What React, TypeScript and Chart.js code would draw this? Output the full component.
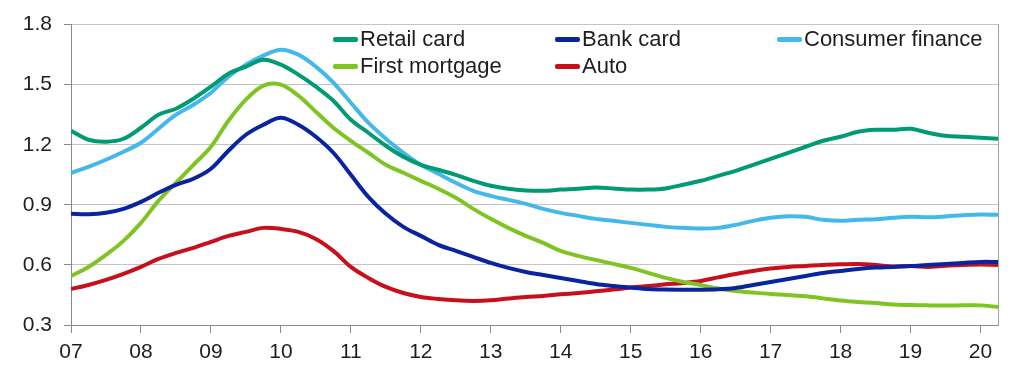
import React, { useEffect, useRef } from "react";
import { Chart, registerables } from "chart.js";

Chart.register(...registerables);

// Quarterly observations, 2007 Q1 .. 2020 Q2 (x in fractional years)
const START_YEAR = 2007;
const periods: number[] = Array.from({ length: 54 }, (_, i) => START_YEAR + i / 4);

const retailCard = [
  1.27, 1.225, 1.215, 1.23,
  1.285, 1.35, 1.38, 1.43,
  1.49, 1.555, 1.59, 1.625,
  1.6, 1.55, 1.49, 1.42,
  1.325, 1.26, 1.195, 1.14,
  1.1, 1.075, 1.05, 1.02,
  0.995, 0.98, 0.972, 0.97,
  0.976, 0.98, 0.986, 0.982,
  0.976, 0.976, 0.982, 1.0,
  1.02, 1.045, 1.07, 1.1,
  1.13, 1.16, 1.19, 1.22,
  1.24, 1.265, 1.275, 1.275,
  1.28, 1.26, 1.245, 1.24,
  1.235, 1.23,
];

const bankCard = [
  0.855, 0.853, 0.86, 0.88,
  0.915, 0.96, 1.0, 1.03,
  1.08, 1.17, 1.25, 1.3,
  1.335, 1.3, 1.24, 1.16,
  1.05, 0.94, 0.855, 0.79,
  0.745, 0.7, 0.67, 0.64,
  0.61, 0.585, 0.565, 0.55,
  0.535, 0.52, 0.505, 0.495,
  0.487, 0.48, 0.477, 0.476,
  0.476, 0.478, 0.485, 0.5,
  0.515, 0.53, 0.545, 0.56,
  0.57, 0.58, 0.587, 0.59,
  0.594, 0.6, 0.605, 0.61,
  0.615, 0.615,
];

const consumerFinance = [
  1.06, 1.09, 1.125, 1.165,
  1.21, 1.28, 1.35, 1.4,
  1.46, 1.54, 1.6, 1.645,
  1.675, 1.65, 1.59, 1.51,
  1.41, 1.31, 1.23, 1.16,
  1.1, 1.055, 1.01, 0.97,
  0.945, 0.925, 0.905, 0.88,
  0.86, 0.845, 0.83, 0.82,
  0.81, 0.8, 0.79, 0.785,
  0.782, 0.785, 0.8, 0.82,
  0.835, 0.843, 0.84, 0.825,
  0.82, 0.825, 0.828, 0.835,
  0.84, 0.838, 0.842, 0.848,
  0.852, 0.85,
];

const firstMortgage = [
  0.545, 0.59, 0.65, 0.72,
  0.81, 0.92, 1.01, 1.1,
  1.19, 1.32, 1.425, 1.495,
  1.5, 1.445, 1.365, 1.285,
  1.22, 1.16, 1.1, 1.06,
  1.02, 0.98, 0.935, 0.88,
  0.83, 0.785, 0.745, 0.71,
  0.67, 0.645, 0.625, 0.605,
  0.585, 0.56, 0.535, 0.515,
  0.5, 0.482, 0.47, 0.462,
  0.455, 0.45, 0.443, 0.433,
  0.422, 0.415, 0.41, 0.402,
  0.4, 0.398, 0.397, 0.398,
  0.398, 0.39,
];

const auto = [
  0.48, 0.5, 0.525, 0.555,
  0.59, 0.63, 0.66, 0.685,
  0.715, 0.745, 0.765, 0.785,
  0.78, 0.765, 0.73, 0.67,
  0.59, 0.535, 0.49, 0.46,
  0.44, 0.43, 0.423, 0.42,
  0.423, 0.432, 0.44, 0.445,
  0.453, 0.46, 0.468, 0.477,
  0.487, 0.495, 0.503, 0.51,
  0.52, 0.538, 0.555, 0.57,
  0.582, 0.59, 0.595, 0.6,
  0.603, 0.605, 0.6, 0.592,
  0.594, 0.59, 0.596, 0.6,
  0.602, 0.6,
];

const seriesNames = ["Retail card", "Bank card", "Consumer finance", "First mortgage", "Auto"];
const seriesColors = ["#009a74", "#0a24a0", "#45b8ea", "#80c423", "#c8101c"];
const seriesValues = [retailCard, bankCard, consumerFinance, firstMortgage, auto];

const yTicks = [0.3, 0.6, 0.9, 1.2, 1.5, 1.8];

const FONT = "'Liberation Sans', Arial, sans-serif";

const legendItems = [
  { idx: 0, left: 333, top: 39 },
  { idx: 1, left: 555, top: 39 },
  { idx: 2, left: 777, top: 39 },
  { idx: 3, left: 333, top: 66 },
  { idx: 4, left: 555, top: 66 },
];

export default function App() {
  const canvasRef = useRef<HTMLCanvasElement | null>(null);

  useEffect(() => {
    document.body.style.margin = "0";
    const ctx = canvasRef.current;
    if (!ctx) return;
    const chart = new Chart(ctx, {
      type: "line",
      data: {
        datasets: seriesValues.map((vals, i) => ({
          label: seriesNames[i],
          data: vals.map((v, j) => ({ x: periods[j], y: v })),
          borderColor: seriesColors[i],
          backgroundColor: seriesColors[i],
          borderWidth: 4,
          pointRadius: 0,
          tension: 0.35,
          fill: false,
          yAxisID: "y",
        })),
      },
      options: {
        animation: false,
        responsive: false,
        maintainAspectRatio: false,
        layout: { padding: { top: 22, right: 26, bottom: 0, left: 0 } },
        plugins: { legend: { display: false }, tooltip: { enabled: false } },
        scales: {
          x: {
            type: "linear",
            min: 2007,
            max: 2020.25,
            afterFit: (s: any) => {
              s.height = 41;
            },
            grid: {
              display: true,
              drawOnChartArea: false,
              drawTicks: true,
              tickLength: 8,
              tickColor: "#8a8a8a",
              lineWidth: 1,
            },
            border: { display: true, color: "#8a8a8a", width: 1 },
            ticks: {
              stepSize: 1,
              includeBounds: false,
              maxRotation: 0,
              autoSkip: false,
              padding: 7,
              color: "#1e1e1e",
              font: { family: FONT, size: 21 },
              callback: (v: any) => String(Number(v) % 100).padStart(2, "0"),
            },
          },
          y: {
            type: "linear",
            min: yTicks[0],
            max: yTicks[yTicks.length - 1],
            afterFit: (s: any) => {
              s.width = 71;
            },
            afterBuildTicks: (s: any) => {
              s.ticks = yTicks.map((v) => ({ value: v }));
            },
            grid: {
              color: "#c4c4c4",
              lineWidth: 1,
              drawTicks: true,
              tickLength: 7,
              tickColor: "#8a8a8a",
            },
            border: { display: true, color: "#8a8a8a", width: 1 },
            ticks: {
              padding: 12,
              color: "#1e1e1e",
              font: { family: FONT, size: 21 },
              callback: (v: any) => Number(v).toFixed(1),
            },
          },
          y2: {
            type: "linear",
            position: "right",
            min: yTicks[0],
            max: yTicks[yTicks.length - 1],
            afterFit: (s: any) => {
              s.width = 0;
            },
            grid: { display: false, drawTicks: false },
            border: { display: true, color: "#a0a0a0", width: 1 },
            ticks: { display: false },
          },
        },
      },
    } as any);
    return () => chart.destroy();
  }, []);

  return (
    <div style={{ position: "relative", width: 1024, height: 366, background: "#fff" }}>
      <canvas ref={canvasRef} width={1024} height={366} style={{ display: "block" }} />
      {legendItems.map((it) => (
        <div
          key={it.idx}
          style={{
            position: "absolute",
            left: it.left,
            top: it.top - 12,
            height: 24,
            display: "flex",
            alignItems: "center",
            fontFamily: FONT,
            fontSize: 22,
            color: "#1e1e1e",
            whiteSpace: "nowrap",
            lineHeight: "24px",
          }}
        >
          <span
            style={{
              display: "inline-block",
              width: 25,
              height: 5,
              borderRadius: 2,
              background: seriesColors[it.idx],
              marginRight: 2,
            }}
          />
          <span>{seriesNames[it.idx]}</span>
        </div>
      ))}
    </div>
  );
}
